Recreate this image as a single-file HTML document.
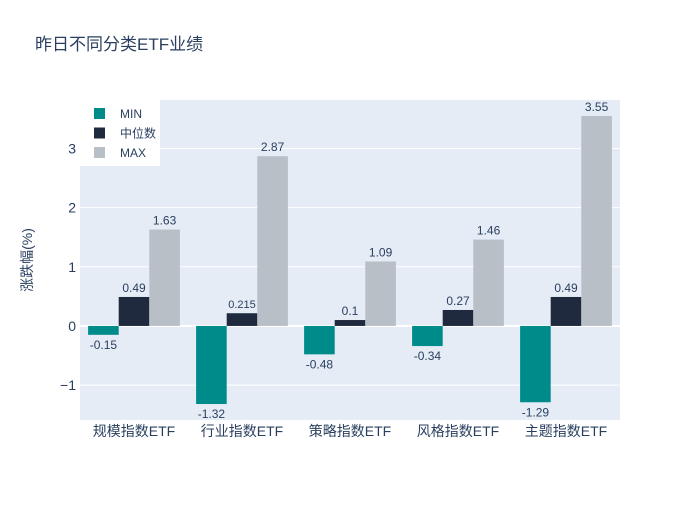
<!DOCTYPE html>
<html><head><meta charset="utf-8"><style>
body{margin:0;background:#fff;font-family:"Liberation Sans","Noto Sans CJK SC",sans-serif;}
svg text{font-family:"Liberation Sans","Noto Sans CJK SC",sans-serif;}
</style></head><body>
<svg id="chart" width="700" height="500" xmlns="http://www.w3.org/2000/svg">
<rect width="700" height="500" fill="#fff"/>
<text x="35" y="50" font-size="17" fill="#2a3f5f">昨日不同分类ETF业绩</text>
<rect x="80" y="100" width="540" height="320" fill="#e5ecf6"/>
<g id="grid"></g><g id="bars"></g><g id="labels"></g><g id="axes"></g>
<text transform="translate(32,260) rotate(-90)" text-anchor="middle" font-size="14" fill="#2a3f5f">涨跌幅(%)</text>
<g id="legend"></g>
</svg>
<script>
const categories=["规模指数ETF","行业指数ETF","策略指数ETF","风格指数ETF","主题指数ETF"];
const seriesNames=["MIN","中位数","MAX"];
const minVals=[-0.15,-1.32,-0.48,-0.34,-1.29];
const medVals=[0.49,0.215,0.1,0.27,0.49];
const maxVals=[1.63,2.87,1.09,1.46,3.55];
const yTicks=[-1,0,1,2,3];
const tickLabels=["−1","0","1","2","3"];
const colors=["#008b8b","#1f2a3f","#b8bfc7"];
const NS="http://www.w3.org/2000/svg";
const L=80,R=620,T=100,B=420,yMin=-1.59,yMax=3.82;
const y=v=>B-(v-yMin)/(yMax-yMin)*(B-T);
const band=(R-L)/categories.length;
const gap=0.15;
const bw=band*(1-gap)/3;
const x=(i,s)=>L+band*i+band*gap/2+bw*s;
function mk(tag,attrs,parent,txt){const e=document.createElementNS(NS,tag);for(const k in attrs)e.setAttribute(k,attrs[k]);if(txt!==undefined)e.textContent=txt;document.getElementById(parent).appendChild(e);return e;}
yTicks.forEach((t,i)=>{
 const g=mk('line',{x1:L,x2:R,y1:y(t),y2:y(t),stroke:'#fff','stroke-width':t===0?2:1},'grid');
 
 
 const tx=mk('text',{x:L-4,y:y(t)+5,'text-anchor':'end','font-size':14,fill:'#2a3f5f'},'axes',tickLabels[i]);
 
 
});
categories.forEach((c,i)=>{
 const tx=mk('text',{x:L+band*(i+0.5),y:436,'text-anchor':'middle','font-size':14,fill:'#2a3f5f'},'axes',c);
 
 
});
[minVals,medVals,maxVals].forEach((vals,s)=>{
 vals.forEach((v,i)=>{
  const top=Math.min(y(v),y(0)),h=Math.abs(y(v)-y(0));
  const r=mk('rect',{x:x(i,s),y:top,width:bw,height:h,fill:colors[s]},'bars');
  
  
  const fs=(v>0&&String(v).length>4)?11:12;
  const ly=v>=0?y(v)-5:y(v)+14;
  const t=mk('text',{x:x(i,s)+bw/2,y:ly,'text-anchor':'middle','font-size':fs,fill:'#2a3f5f'},'labels',String(v));
  
  
 });
});
const lb=mk('rect',{x:80,y:100,width:80,height:66,fill:'#fff'},'legend');


seriesNames.forEach((n,s)=>{
 const sw=mk('rect',{x:94,y:108+s*19.5,width:11,height:11,fill:colors[s]},'legend');
 
 
 const t=mk('text',{x:120,y:118+s*19.5,'font-size':12,fill:'#2a3f5f'},'legend',n);
 
 
});
</script>
</body></html>
